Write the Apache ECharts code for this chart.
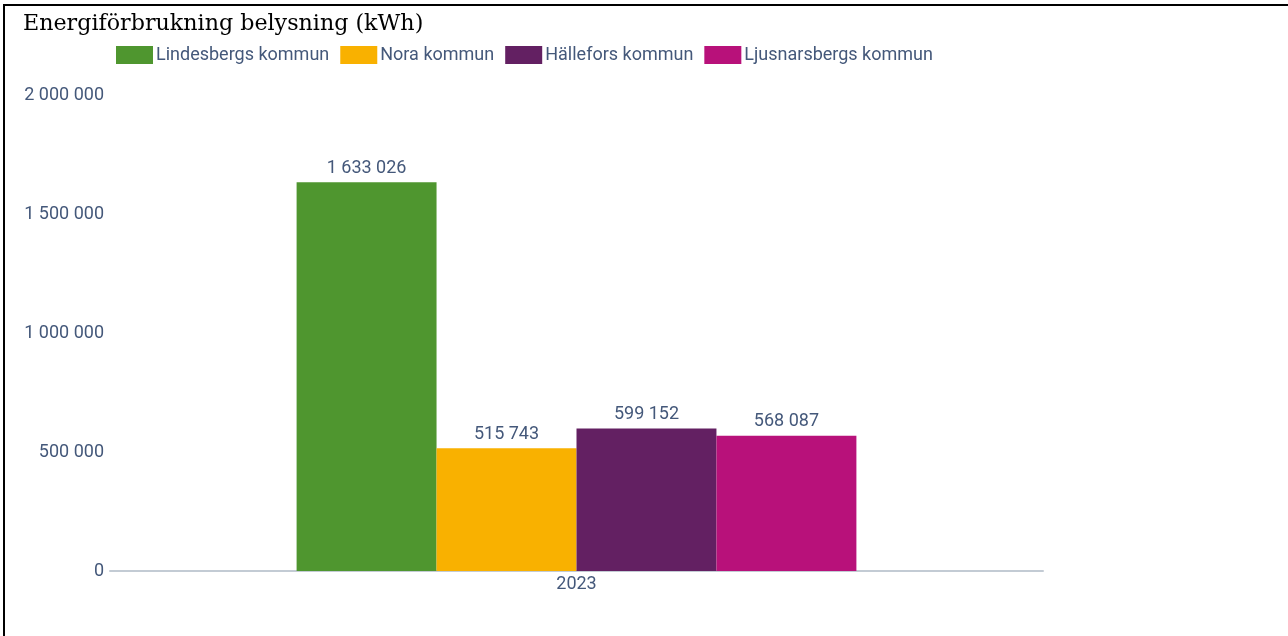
<!DOCTYPE html>
<html>
<head>
<meta charset="utf-8">
<script src="https://cdn.jsdelivr.net/npm/echarts@6/dist/echarts.min.js"></script>
<style>
    html, body { margin: 0; padding: 0; background: #fff; }
    #frame {
        position: absolute; left: 3px; top: 4px; right: 0; bottom: 0;
        border-top: 2px solid #000; border-left: 2px solid #000;
    }
    #chart { position: absolute; left: 0; top: 0; width: 1288px; height: 636px; }
</style>
</head>
<body>
<div id="frame"></div>
<div id="chart"></div>
<script>

let categories = ['2023'];
let municipalities = ['Lindesbergs kommun', 'Nora kommun', 'Hällefors kommun', 'Ljusnarsbergs kommun'];
let energy_values = [1633026, 515743, 599152, 568087];
let bar_colors = ['#4f962f', '#f9b100', '#632062', '#b8117a'];
let y_ticks = [0, 500000, 1000000, 1500000, 2000000];

let text_color = '#44587a';


document.addEventListener("DOMContentLoaded", () => {
    draw_energy_chart();
});


function format_number(value) {
    return String(value).replace(/\B(?=(\d{3})+(?!\d))/g, ' ');
}


function draw_energy_chart() {

    var series_list = [];
    municipalities.forEach(function (name, index) {
        series_list.push({
            name: name,
            type: 'bar',
            barGap: '0%',
            barCategoryGap: '40%',
            itemStyle: { color: bar_colors[index] },
            label: {
                show: true,
                position: 'top',
                distance: 5,
                color: text_color,
                fontFamily: 'Roboto',
                fontSize: 18,
                formatter: function (p) { return format_number(p.value); }
            },
            data: [energy_values[index]]
        });
    });

    echarts.init(document.querySelector("#chart")).setOption({
        animation: false,
        title: {
            text: 'Energiförbrukning belysning (kWh)',
            left: 18,
            top: 8,
            textStyle: {
                fontFamily: 'DejaVu Serif',
                fontWeight: 'normal',
                fontSize: 22.2,
                color: '#000'
            }
        },
        legend: {
            left: 111,
            top: 41,
            icon: 'rect',
            itemWidth: 37,
            itemHeight: 18,
            itemGap: 11,
            textStyle: { color: text_color, fontFamily: 'Roboto', fontSize: 18, padding: [0, 0, 0, -2] },
            data: municipalities
        },
        grid: {
            left: 110,
            right: 245,
            top: 95,
            bottom: 65
        },
        xAxis: {
            type: 'category',
            data: categories,
            axisTick: { show: false },
            axisLine: { lineStyle: { color: '#c3cbd4', width: 2 } },
            axisLabel: { color: text_color, fontFamily: 'Roboto', fontSize: 18, margin: 4 }
        },
        yAxis: {
            type: 'value',
            min: y_ticks[0],
            max: y_ticks[y_ticks.length - 1],
            interval: y_ticks[1] - y_ticks[0],
            splitLine: { show: false },
            axisLine: { show: false },
            axisTick: { show: false },
            axisLabel: {
                color: text_color,
                fontFamily: 'Roboto',
                fontSize: 18,
                margin: 6,
                formatter: function (v) { return format_number(v); }
            }
        },
        series: series_list
    });
}
</script>
</body>
</html>
